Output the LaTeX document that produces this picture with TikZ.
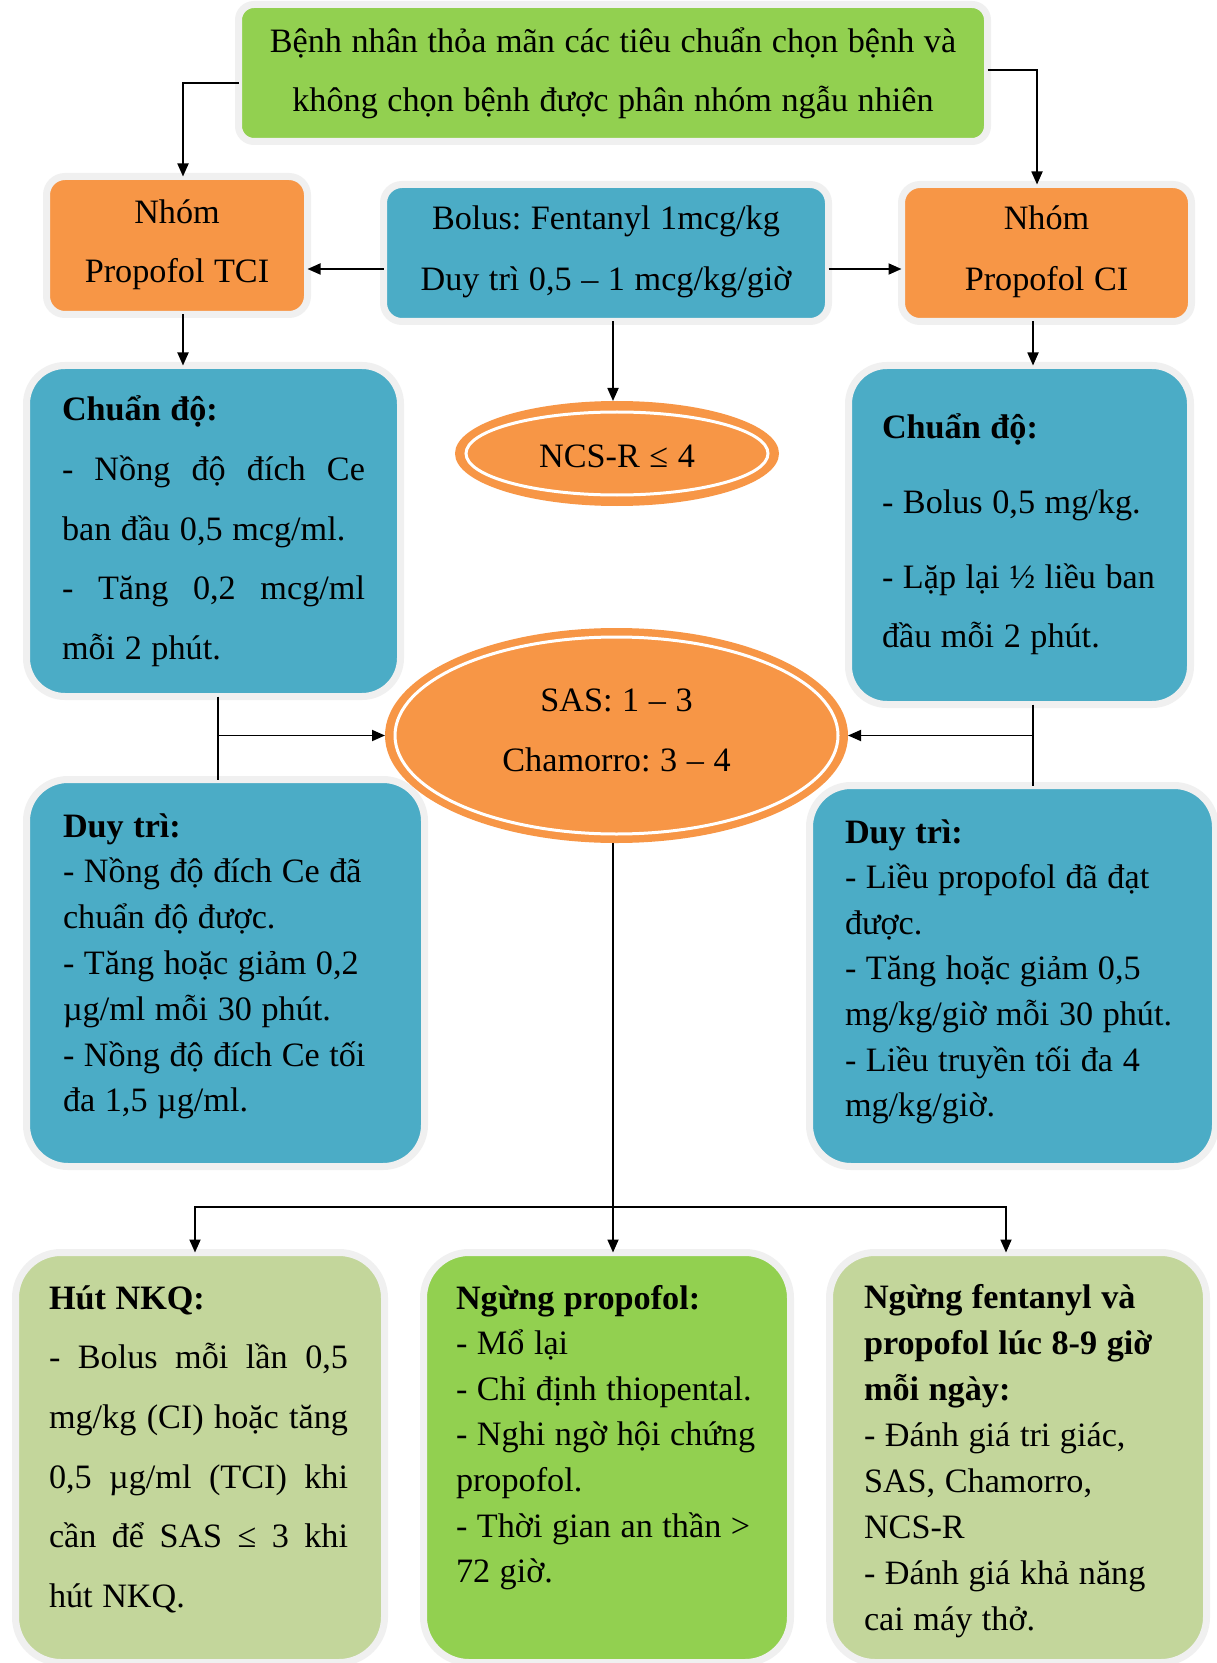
\documentclass[tikz,border=0pt]{standalone}
\usepackage{fontspec}
\setmainfont{Liberation Serif}
\usetikzlibrary{arrows.meta,shapes.geometric,calc}
\definecolor{cOrange}{HTML}{F79646}
\definecolor{cBlue}{HTML}{4BACC6}
\definecolor{cGreen}{HTML}{92D050}
\definecolor{cLight}{HTML}{C3D69B}
\definecolor{cHalo}{HTML}{F0F0F0}
\newcommand\jl[2]{\makebox[#1][s]{\spaceskip=0.28em plus 1em\xspaceskip=\spaceskip\relax #2}}
\newcommand\sk{\spaceskip=0.28em\xspaceskip=\spaceskip\relax}
\newcommand\fz[2]{\fontsize{#1}{#2}\selectfont}
\frenchspacing
\begin{document}
\frenchspacing
\begin{tikzpicture}[x=0.5pt,y=-0.5pt,
  box/.style={rectangle, draw=cHalo, line width=3.5pt, inner sep=0pt, outer sep=0pt},
  oval/.style={ellipse, fill=cOrange, draw=none, inner sep=0pt, outer sep=0pt},
  arr/.style={line width=0.9pt, -{Triangle[length=6.5pt,width=5.5pt]}},
  ln/.style={line width=0.9pt},
  ctext/.style={anchor=base, inner sep=0pt, outer sep=0pt, align=center, text width=#1},
  ltext/.style={anchor=base west, inner sep=0pt, outer sep=0pt, align=left, text width=#1},
  ring/.style={draw=white, line width=1.5pt}
]
\fill[white] (0,0) rectangle (1216,1663);
\useasboundingbox (0,0) rectangle (1216,1663);

% boxes
\node[box, fill=cGreen, minimum width=374.5pt, minimum height=68.5pt, rounded corners=7.75pt] (top) at (613,73) {};
\node[box, fill=cOrange, minimum width=130.5pt, minimum height=69pt, rounded corners=9.25pt] (nTCI) at (177,245.5) {};
\node[box, fill=cBlue, minimum width=222.5pt, minimum height=68.5pt, rounded corners=9.25pt] (bolus) at (606,253) {};
\node[box, fill=cOrange, minimum width=145pt, minimum height=68.5pt, rounded corners=9.25pt] (nCI) at (1046.5,253) {};
\node[box, fill=cBlue, minimum width=187pt, minimum height=165.5pt, rounded corners=19.25pt] (cdL) at (213.5,531) {};
\node[box, fill=cBlue, minimum width=171pt, minimum height=169.5pt, rounded corners=19.25pt] (cdR) at (1019.5,535) {};
\node[box, fill=cBlue, minimum width=199pt, minimum height=193.5pt, rounded corners=20.75pt] (dtL) at (225.5,973) {};
\node[box, fill=cBlue, minimum width=203pt, minimum height=190.5pt, rounded corners=20.75pt] (dtR) at (1012.5,976) {};
\node[box, fill=cLight, minimum width=184.5pt, minimum height=205pt, rounded corners=22.75pt] (hut) at (200,1457.5) {};
\node[box, fill=cGreen, minimum width=183.5pt, minimum height=205pt, rounded corners=22.75pt] (mid) at (607,1457.5) {};
\node[box, fill=cLight, minimum width=188.5pt, minimum height=205pt, rounded corners=22.75pt] (rgt) at (1018,1457.5) {};

% ellipses
\node[oval, minimum width=162pt, minimum height=52.5pt] (ncs) at (617,453.5) {};
\draw[ring] (ncs.center) ellipse [x radius=75.5pt, y radius=20.75pt];
\node[oval, minimum width=231.5pt, minimum height=107.5pt] (sas) at (616.5,735.5) {};
\draw[ring] (sas.center) ellipse [x radius=110.75pt, y radius=49.25pt];

% texts
\node[ctext=370pt, font=\fz{17.1pt}{29.5pt}] (tTop) at (613,53)
  {\sk Bệnh nhân thỏa mãn các tiêu chuẩn chọn bệnh và\\không chọn bệnh được phân nhóm ngẫu nhiên};
\node[ctext=125pt, font=\fz{17.1pt}{29.5pt}] (tTCI) at (177,224)
  {\sk Nhóm\\Propofol TCI};
\node[ctext=215pt, font=\fz{17.1pt}{30.5pt}] (tBolus) at (606,230)
  {\sk Bolus: Fentanyl 1mcg/kg\\Duy trì 0,5 – 1 mcg/kg/giờ};
\node[ctext=140pt, font=\fz{17.1pt}{30.5pt}] (tCI) at (1046.5,230)
  {\sk Nhóm\\Propofol CI};
\node[ctext=150pt, font=\fz{17.1pt}{30pt}] (tNcs) at (617,467)
  {\sk NCS-R ≤ 4};
\node[ctext=220pt, font=\fz{17.1pt}{30pt}] (tSas) at (616.5,711)
  {\sk SAS: 1 – 3\\Chamorro: 3 – 4};

\node[ltext=151.5pt, font=\fz{17.1pt}{29.8pt}] (tcdL) at (62,421)
  {\sk\textbf{Chuẩn độ:}\\\jl{151.5pt}{- Nồng độ đích Ce}\\ban đầu 0,5 mcg/ml.\\\jl{151.5pt}{- Tăng 0,2 mcg/ml}\\mỗi 2 phút.};
\node[ltext=160pt, font=\fz{17.1pt}{29.5pt}] (tcdR) at (882,438)
  {\sk\textbf{Chuẩn độ:}\\[8pt]- Bolus 0,5 mg/kg.\\[8pt]- Lặp lại ½ liều ban\\đầu mỗi 2 phút.};
\node[ltext=175pt, font=\fz{17.1pt}{22.9pt}] (tdtL) at (63,837)
  {\sk\textbf{Duy trì:}\\- Nồng độ đích Ce đã\\chuẩn độ được.\\- Tăng hoặc giảm 0,2\\µg/ml mỗi 30 phút.\\- Nồng độ đích Ce tối\\đa 1,5 µg/ml.};
\node[ltext=180pt, font=\fz{17.1pt}{22.8pt}] (tdtR) at (845,843)
  {\sk\textbf{Duy trì:}\\- Liều propofol đã đạt\\được.\\- Tăng hoặc giảm 0,5\\mg/kg/giờ mỗi 30 phút.\\- Liều truyền tối đa 4\\mg/kg/giờ.};
\node[ltext=150pt, font=\fz{17.1pt}{29.85pt}] (thut) at (49,1309)
  {\sk\textbf{Hút NKQ:}\\\jl{149.5pt}{- Bolus mỗi lần 0,5}\\\jl{149.5pt}{mg/kg (CI) hoặc tăng}\\\jl{149.5pt}{0,5 µg/ml (TCI) khi}\\\jl{149.5pt}{cần để SAS ≤ 3 khi}\\hút NKQ.};
\node[ltext=170pt, font=\fz{17.1pt}{22.8pt}] (tmid) at (456,1309)
  {\sk\textbf{Ngừng propofol:}\\- Mổ lại\\- Chỉ định thiopental.\\- Nghi ngờ hội chứng\\propofol.\\- Thời gian an thần >\\72 giờ.};
\node[ltext=175pt, font=\fz{17.1pt}{23pt}] (trgt) at (864,1308)
  {\sk\textbf{Ngừng fentanyl và}\\\textbf{propofol lúc 8-9 giờ}\\\textbf{mỗi ngày:}\\- Đánh giá tri giác,\\SAS, Chamorro,\\NCS-R\\- Đánh giá khả năng\\cai máy thở.};

% connectors
\draw[arr] ([yshift=-5pt]top.west) -| ([xshift=3pt]nTCI.north);
\draw[arr] ([yshift=1.5pt]top.east) -| ([xshift=-4.75pt]nCI.north);
\coordinate (bL) at ([yshift=-8pt]bolus.west);
\draw[arr] (bL) -- (bL -| nTCI.east);
\coordinate (bR) at ([yshift=-8pt]bolus.east);
\draw[arr] (bR) -- (bR -| nCI.west);
\coordinate (b0) at ([xshift=3.5pt]bolus.south);
\draw[arr] (b0) -- (b0 |- ncs.north);
\coordinate (t0) at ([xshift=3pt]nTCI.south);
\draw[arr] (t0) -- (t0 |- cdL.north);
\coordinate (c0) at ([xshift=-6.75pt]nCI.south);
\draw[arr] (c0) -- (c0 |- cdR.north);
\coordinate (l0) at ([xshift=2.25pt]cdL.south);
\draw[ln] (l0) -- (l0 |- dtL.north);
\coordinate (jL) at (l0 |- sas.west);
\draw[arr] (jL) -- (sas.west);
\coordinate (r0) at ([xshift=6.75pt]cdR.south);
\draw[ln] (r0) -- (r0 |- dtR.north);
\coordinate (jR) at (r0 |- sas.east);
\draw[arr] (jR) -- (sas.east);
\coordinate (s0) at ([xshift=-1.75pt]sas.south);
\draw[arr] (s0) -- (s0 |- mid.north);
\coordinate (split) at (613,1207);
\draw[arr] (split) -| ([xshift=-2.5pt]hut.north);
\draw[arr] (split) -| ([xshift=-6pt]rgt.north);
\end{tikzpicture}
\end{document}
